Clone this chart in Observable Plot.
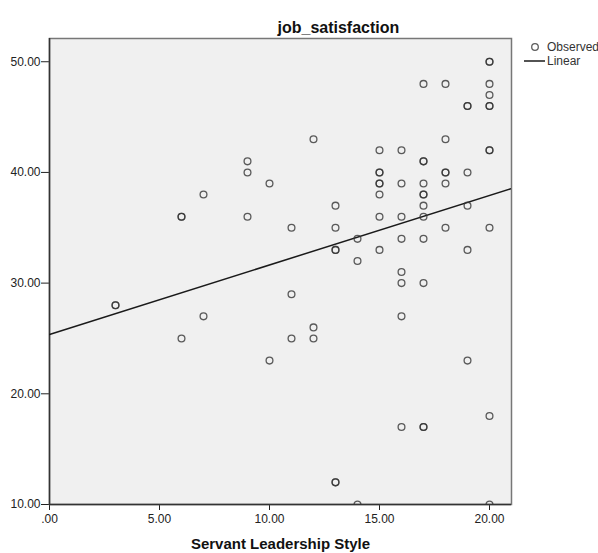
<!DOCTYPE html>
<html>
<head>
<meta charset="utf-8">
<script src="https://cdn.jsdelivr.net/npm/d3@7"></script>
<script src="https://cdn.jsdelivr.net/npm/@observablehq/plot@0.6"></script>
<style>
  html, body { margin: 0; padding: 0; background: #fff; }
  #wrap { position: relative; width: 598px; height: 553px; overflow: hidden; font-family: "Liberation Sans", Arial, sans-serif; }
  #wrap > svg { position: absolute; left: 0; top: 0; }
  #legend { position: absolute; left: 0; top: 0; pointer-events: none; }
</style>
</head>
<body>
<div id="wrap"></div>
<script>
// Observed points (duplicated pairs appear as bolder circles)
const servantLeadership = [
  3, 3,
  6, 6, 6,
  7, 7,
  9, 9, 9,
  10, 10,
  11, 11, 11,
  12, 12, 12,
  13, 13, 13, 13, 13, 13,
  14, 14, 14,
  15, 15, 15, 15, 15, 15, 15, 15,
  16, 16, 16, 16, 16, 16, 16, 16,
  17, 17, 17, 17, 17, 17, 17, 17, 17, 17, 17, 17,
  18, 18, 18, 18, 18, 18,
  19, 19, 19, 19, 19, 19,
  20, 20, 20, 20, 20, 20, 20, 20, 20, 20, 20
];
const jobSatisfaction = [
  28, 28,
  36, 36, 25,
  38, 27,
  41, 40, 36,
  39, 23,
  35, 29, 25,
  43, 26, 25,
  37, 35, 33, 33, 12, 12,
  34, 32, 10,
  42, 40, 40, 39, 39, 38, 36, 33,
  42, 39, 36, 34, 31, 30, 27, 17,
  48, 41, 41, 39, 38, 38, 37, 36, 34, 30, 17, 17,
  48, 43, 40, 40, 39, 35,
  46, 46, 40, 37, 33, 23,
  50, 50, 48, 47, 46, 46, 42, 42, 35, 18, 10
];
// Linear fit
const fitIntercept = 25.36;
const fitSlope = 0.628;

const xDomain = [0, 21];
const yDomain = [10, 52.1];
const xTicks = [0, 5, 10, 15, 20];
const yTicks = [10, 20, 30, 40, 50];
const titleText = "job_satisfaction";
const xLabelText = "Servant Leadership Style";
const legendLabels = ["Observed", "Linear"];

const points = servantLeadership.map((x, i) => ({x, y: jobSatisfaction[i]}));
const fitLine = xDomain.map(x => ({x, y: fitIntercept + fitSlope * x}));
const fmt = d => d === 0 ? ".00" : d.toFixed(2);

const chart = Plot.plot({
  width: 598,
  height: 553,
  marginLeft: 49,
  marginRight: 87,
  marginTop: 38,
  marginBottom: 49,
  style: {fontFamily: "'Liberation Sans', Arial, sans-serif", fontSize: "12px", color: "#222", background: "transparent"},
  x: {domain: xDomain, ticks: xTicks, tickFormat: fmt, tickSize: 6, tickPadding: 4, label: null},
  y: {domain: yDomain, ticks: yTicks, tickFormat: fmt, tickSize: 8, tickPadding: 1, label: null},
  marks: [
    Plot.frame({fill: "#f0f0f0", stroke: "#777", strokeWidth: 1.5}),
    Plot.ruleX([xDomain[0]], {stroke: "#333", strokeWidth: 1.5}),
    Plot.ruleY([yDomain[0]], {stroke: "#333", strokeWidth: 1.5}),
    Plot.line(fitLine, {x: "x", y: "y", stroke: "#1a1a1a", strokeWidth: 1.5, clip: true}),
    Plot.dot(points, {x: "x", y: "y", r: 3.4, stroke: "#333", strokeOpacity: 0.8, strokeWidth: 1.3, fill: "none", clip: true}),
    Plot.text([titleText], {frameAnchor: "top-left", dx: 228, dy: -6, lineAnchor: "bottom", textAnchor: "start", text: d => d, fontSize: 16, fontWeight: "bold", fill: "#111"}),
    Plot.text([xLabelText], {frameAnchor: "bottom", dy: 44, lineAnchor: "bottom", text: d => d, fontSize: 15, fontWeight: "bold", fill: "#111"})
  ]
});
const wrap = document.getElementById("wrap");
wrap.appendChild(chart);

// Legend overlay
const ns = "http://www.w3.org/2000/svg";
const lg = document.createElementNS(ns, "svg");
lg.setAttribute("id", "legend");
lg.setAttribute("width", 598);
lg.setAttribute("height", 553);
lg.innerHTML = `
  <circle cx="535" cy="47" r="3.3" fill="none" stroke="#333" stroke-opacity="0.8" stroke-width="1.3"></circle>
  <text x="547" y="47" dy="0.35em" font-size="12" fill="#333" font-family="'Liberation Sans', Arial, sans-serif">${legendLabels[0]}</text>
  <line x1="524" x2="545" y1="61" y2="61" stroke="#1a1a1a" stroke-width="1.5"></line>
  <text x="547" y="61" dy="0.35em" font-size="12" fill="#333" font-family="'Liberation Sans', Arial, sans-serif">${legendLabels[1]}</text>
`;
wrap.appendChild(lg);
</script>
</body>
</html>
